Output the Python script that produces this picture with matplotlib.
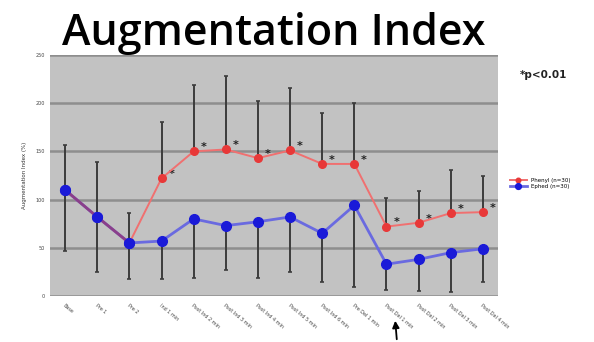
import matplotlib
matplotlib.use("Agg")
import matplotlib.pyplot as plt

# time points along the protocol
labels = ["Base", "Pre 1", "Pre 2", "Ind 1 min", "Post Ind 2 min", "Post Ind 3 min",
          "Post Ind 4 min", "Post Ind 5 min", "Post Ind 6 min", "Pre Del 1 min",
          "Post Del 1 min", "Post Del 2 min", "Post Del 3 min", "Post Del 4 min"]

phenyl = [110, 82, 55, 122, 150, 152, 143, 151, 137, 137, 72, 76, 86, 87]
phenyl_err = [47, 57, 31, 59, 69, 76, 59, 65, 53, 63, 30, 33, 45, 37]

ephed = [110, 82, 55, 57, 80, 73, 77, 82, 65, 94, 33, 38, 45, 49]
ephed_err = [63, 57, 37, 39, 61, 46, 58, 57, 50, 85, 27, 33, 41, 34]

# points where the groups differ (p<0.01)
signif = [3, 4, 5, 6, 7, 8, 9, 10, 11, 12, 13]

x = list(range(len(labels)))

fig = plt.figure(figsize=(5.94, 3.42), dpi=100)
ax = fig.add_axes([0.0842, 0.1345, 0.7542, 0.7047])
ax.set_facecolor("#c2c2c2")
for s in ax.spines.values():
    s.set_visible(False)

ax.set_ylim(0, 250)
ax.set_xlim(-0.47, len(labels) - 0.53)
ax.set_yticks([0, 50, 100, 150, 200, 250])
ax.yaxis.grid(True, color="#8e8e8e", linewidth=1.8)
ax.set_axisbelow(True)
ax.tick_params(axis="both", length=0, labelsize=3.5, colors="#444444")
ax.set_ylabel("Augmentation Index (%)", fontsize=4, color="#333333", labelpad=6)

ax.set_xticks(x)
ax.set_xticklabels(labels, rotation=-40, ha="left", rotation_mode="anchor",
                   fontsize=3.5, color="#444444")
ax.tick_params(axis="x", pad=5)

# error bars: upper side for phenyl, lower side for ephed
ax.errorbar(x, phenyl, yerr=[[0] * len(x), phenyl_err], fmt="none",
            ecolor="#3c3c3c", elinewidth=1.4, capsize=1.5, capthick=1.2, zorder=2)
ax.errorbar(x, ephed, yerr=[ephed_err, [0] * len(x)], fmt="none",
            ecolor="#3c3c3c", elinewidth=1.4, capsize=1.5, capthick=1.2, zorder=2)

ax.plot(x, ephed, color="#6a6ae0", linewidth=2, marker="o", markersize=7,
        markerfacecolor="#1a1ad8", markeredgecolor="#1a1ad8", zorder=3,
        label="Ephed (n=30)")
ax.plot(x, phenyl, color="#f07070", linewidth=1.4, marker="o", markersize=5.5,
        markerfacecolor="#e83838", markeredgecolor="#e83838", zorder=4,
        label="Phenyl (n=30)")
# shared segment looks purple where both lines overlap
ax.plot(x[:3], phenyl[:3], color="#8a3f8a", linewidth=2, zorder=4.5)
ax.plot(x[:3], phenyl[:3], linestyle="none", marker="o", markersize=7,
        markerfacecolor="#1a1ad8", markeredgecolor="#1a1ad8", zorder=5)

for i in signif:
    ax.annotate("*", (x[i], phenyl[i]), xytext=(7, 3), textcoords="offset points",
                fontsize=8, fontweight="bold", color="#222222", ha="center", va="center")

handles, names = ax.get_legend_handles_labels()
fig.legend(handles[::-1], names[::-1], loc="upper left", bbox_to_anchor=(0.85, 0.495),
           frameon=False, fontsize=4, handlelength=3, markerscale=0.6,
           labelspacing=0.3)

fig.text(62 / 594, 0.868, "Augmentation Index", fontsize=31, family="Open Sans",
         fontweight="semibold", color="black", ha="left", va="baseline")
fig.text(0.875, 0.78, "*p<0.01", fontsize=7.5, fontweight="bold", color="#222222",
         ha="left", va="center")

# marker arrow under the post-delivery point
ax.annotate("", xy=(395 / 594, 1 - 318 / 342), xytext=(397 / 594, 0.0),
            xycoords="figure fraction", textcoords="figure fraction",
            annotation_clip=False,
            arrowprops=dict(arrowstyle="-|>", color="black", lw=1.3, mutation_scale=10))

fig.savefig("out.png", dpi=100)
